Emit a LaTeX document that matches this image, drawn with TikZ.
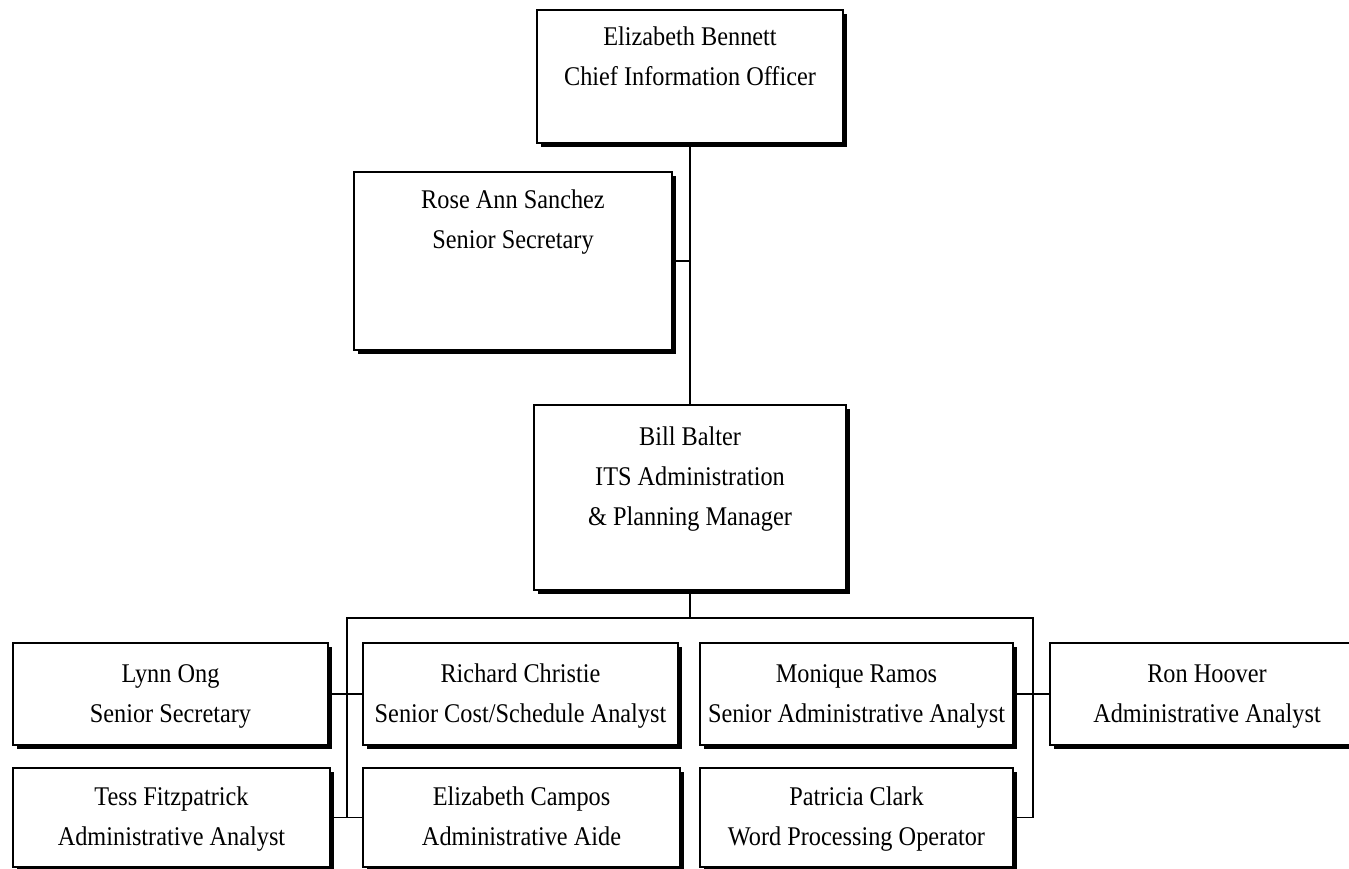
\documentclass[tikz,border=0pt]{standalone}
\usepackage{fontspec}
\setmainfont{Liberation Serif}[FakeStretch=0.9]
\usetikzlibrary{shadows}
\begin{document}
\begin{tikzpicture}[x=1pt,y=-1pt,
  box/.style={draw=black, line width=1.8pt, fill=white, inner sep=0pt,
    drop shadow={shadow xshift=4pt, shadow yshift=-4pt, fill=black, opacity=1},
    align=center, font=\fontsize{27}{40}\selectfont},
  lbl/.style={inner sep=0pt, align=center, font=\fontsize{27}{40}\selectfont},
  conn/.style={line width=1.8pt, line cap=rect}]
\useasboundingbox (0,0) rectangle (1349,869);
% top level
\node[box, minimum width=306pt, minimum height=133pt] (cio) at (690,76.5) {};
\node[lbl] (ciot) at (690,58) {\strut Elizabeth Bennett\\Chief Information Officer\strut};
\node[box, minimum width=318pt, minimum height=178pt] (rose) at (513,261) {};
\node[lbl] (roset) at (513,220) {\strut Rose Ann Sanchez\\Senior Secretary\strut};
\node[box, minimum width=312pt, minimum height=185pt] (bill) at (690,497.5) {};
\node[lbl] (billt) at (690,477) {\strut Bill Balter\\ITS Administration\\\& Planning Manager\strut};
% staff row 1
\node[box, minimum width=315pt, minimum height=102pt] (lynn) at (170.5,694) {\strut Lynn Ong\\Senior Secretary\strut};
\node[box, minimum width=315pt, minimum height=102pt] (richard) at (520.5,694) {\strut Richard Christie\\Senior Cost/Schedule Analyst\strut};
\node[box, minimum width=313pt, minimum height=102pt] (monique) at (856.5,694) {\strut Monique Ramos\\Senior Administrative Analyst\strut};
\node[box, minimum width=314pt, minimum height=102pt] (ron) at (1207,694) {\strut Ron Hoover\\Administrative Analyst\strut};
% staff row 2
\node[box, minimum width=317pt, minimum height=99pt] (tess) at (171.5,817.5) {\strut Tess Fitzpatrick\\Administrative Analyst\strut};
\node[box, minimum width=317pt, minimum height=99pt] (campos) at (521.5,817.5) {\strut Elizabeth Campos\\Administrative Aide\strut};
\node[box, minimum width=313pt, minimum height=99pt] (patricia) at (856.5,817.5) {\strut Patricia Clark\\Word Processing Operator\strut};
% bus coordinates
\coordinate (busL) at (347,618);
\coordinate (busR) at (1033,618);
\coordinate (busM) at (690,618);
% connectors
\draw[conn] (cio.south) -- (cio.south |- bill.north);
\draw[conn] (rose.east) -- (rose.east -| cio.south);
\draw[conn] (bill.south) -- (busM);
\draw[conn] (busL) -- (busR);
\draw[conn] (busL) -- (busL |- tess.east);
\draw[conn] (busR) -- (busR |- patricia.east);
\draw[conn] (lynn.east) -- (richard.west);
\draw[conn] (tess.east) -- (campos.west);
\draw[conn] (monique.east) -- (ron.west);
\draw[conn] (patricia.east) -- (patricia.east -| busR);
\end{tikzpicture}
\end{document}
